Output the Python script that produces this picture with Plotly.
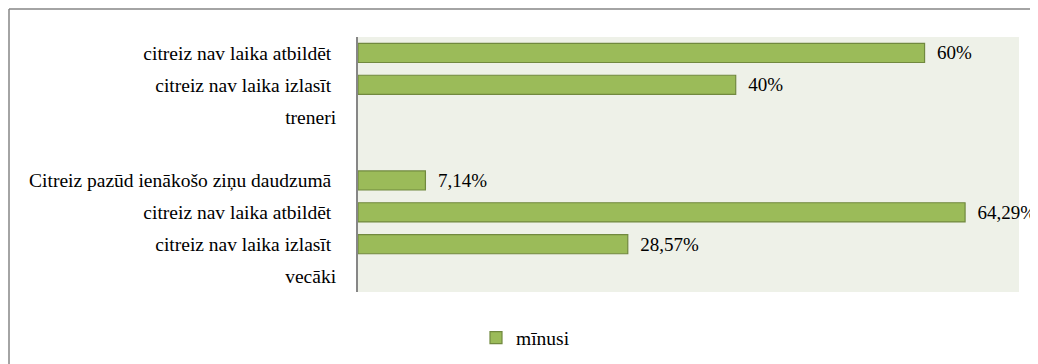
import plotly.graph_objects as go

# categories from top to bottom (blank slot separates the two groups)
labels = [
    "citreiz nav laika atbildēt\u00a0",
    "citreiz nav laika izlasīt\u00a0",
    "treneri",
    "",
    "Citreiz pazūd ienākošo ziņu daudzumā\u00a0",
    "citreiz nav laika atbildēt\u00a0",
    "citreiz nav laika izlasīt\u00a0",
    "vecāki",
]
values = [60, 40, None, None, 7.14, 64.29, 28.57, None]
series_name = "mīnusi"

positions = list(range(len(labels)))
texts = ["" if v is None else "\u00a0\u00a0" + f"{v:g}".replace(".", ",") + "%" for v in values]

FONT = "Liberation Serif"

fig = go.Figure(go.Bar(
    x=values, y=positions, orientation="h", name=series_name,
    width=0.6,
    marker=dict(color="#9BBB59", line=dict(color="#71893F", width=1.2)),
    text=texts, textposition="outside", cliponaxis=False,
    constraintext="none",
    textfont=dict(family=FONT, size=19, color="#000000"),
    hoverinfo="skip",
))

# the page body has an 8px margin, so the figure is drawn 8px in from the window;
# plot area spans x 350..1011, y 29..284 in figure pixels
W, H = 1030, 356
L, R, T, B = 350, 19, 29, 72
pw, ph = W - L - R, H - T - B
left_border = (1 - L) / pw
top_border = (ph + T - 1) / ph
right_edge = (W - L + 5) / pw
bottom_edge = -(B + 5) / ph

fig.update_layout(
    width=W, height=H,
    margin=dict(l=L, r=R, t=T, b=B),
    paper_bgcolor="#FFFFFF",
    plot_bgcolor="#EEF1E8",
    font=dict(family=FONT, size=19.5, color="#000000"),
    showlegend=True,
    legend=dict(
        orientation="h", xref="container", yref="container",
        x=468 / W, xanchor="left", y=(H - 330) / H, yanchor="middle",
        font=dict(family=FONT, size=19.5, color="#000000"),
        bgcolor="rgba(0,0,0,0)",
    ),
    shapes=[
        dict(type="line", xref="paper", yref="paper",
             x0=left_border, x1=right_edge, y0=top_border, y1=top_border,
             line=dict(color="#868686", width=1.5)),
        dict(type="line", xref="paper", yref="paper",
             x0=left_border, x1=left_border, y0=top_border, y1=bottom_edge,
             line=dict(color="#868686", width=1.5)),
    ],
)
fig.update_xaxes(range=[0, 70], visible=False, showgrid=False, zeroline=False)
fig.update_yaxes(
    tickmode="array", tickvals=positions, ticktext=labels,
    range=[len(labels) - 0.5, -0.5],
    showgrid=False, zeroline=False, ticks="",
    showline=True, linecolor="#868686", linewidth=2,
    ticklabelstandoff=16,
)

fig.write_html("out.html")
